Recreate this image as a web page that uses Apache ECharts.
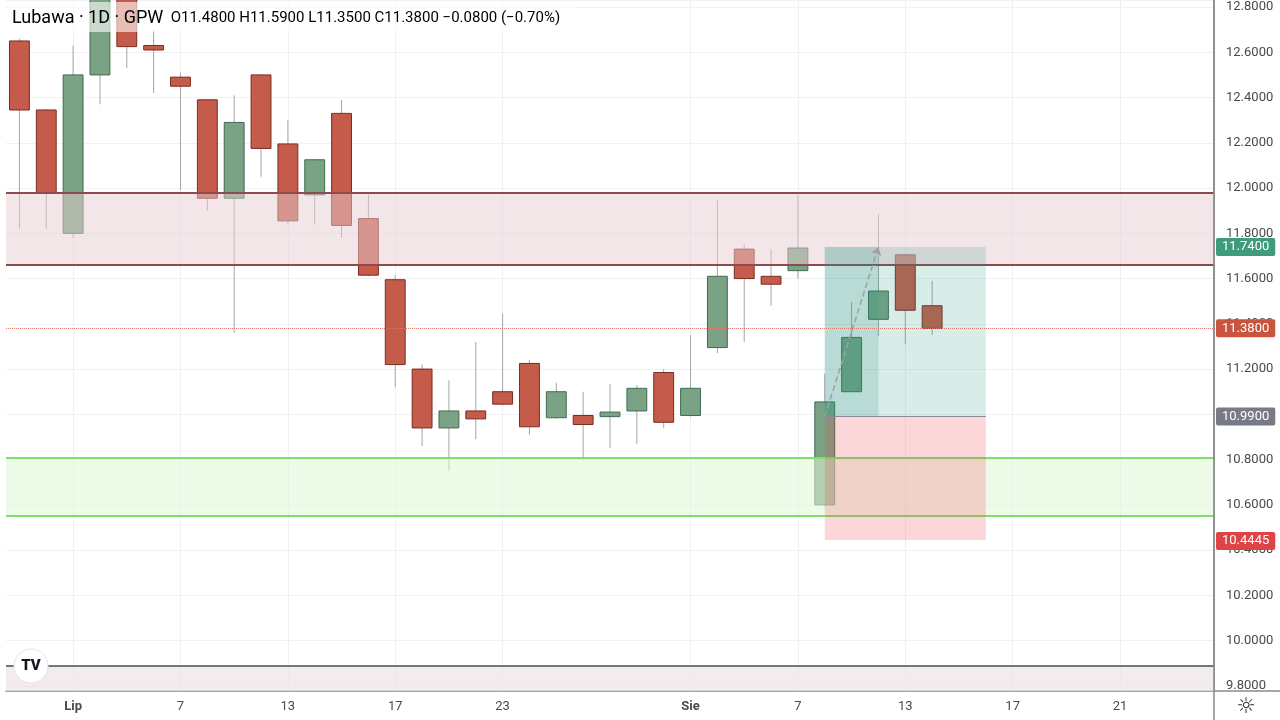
<!DOCTYPE html>
<html>
<head>
<meta charset="utf-8">
<title>Lubawa 1D GPW</title>
<script src="https://cdn.jsdelivr.net/npm/echarts@6/dist/echarts.min.js"></script>
<style>
    html, body { margin: 0; padding: 0; background: #fff; }
    #chart { width: 1280px; height: 720px; }
</style>
</head>
<body>
<div id="chart"></div>
<script>
// sesje (2020) + kilka dni w przyszłość po prawej stronie
const days = [
    '06-29', '06-30', '07-01', '07-02', '07-03', '07-06', '07-07', '07-08', '07-09', '07-10',
    '07-13', '07-14', '07-15', '07-16', '07-17', '07-20', '07-21', '07-22', '07-23', '07-24',
    '07-27', '07-28', '07-29', '07-30', '07-31', '08-03', '08-04', '08-05', '08-06', '08-07',
    '08-10', '08-11', '08-12', '08-13', '08-14',
    '08-15', '08-16', '08-17', '08-18', '08-19', '08-20', '08-21', '08-22', '08-23', '08-24'
];
const tickDays = {
    '07-01': 'Lip', '07-07': '7', '07-13': '13', '07-17': '17', '07-23': '23',
    '08-03': 'Sie', '08-07': '7', '08-13': '13', '08-17': '17', '08-21': '21'
};
const monthTicks = ['Lip', 'Sie'];

const opens = [12.65, 12.345, 11.80, 12.50, 12.92, 12.63, 12.49, 12.39, 11.955, 12.50,
    12.195, 11.97, 12.33, 11.865, 11.595, 11.20, 10.94, 11.015, 11.10, 11.225,
    10.985, 10.995, 10.99, 11.015, 11.185, 10.995, 11.295, 11.73, 11.61, 11.635,
    10.60, 11.10, 11.42, 11.705, 11.48];
const closes = [12.345, 11.98, 12.50, 12.90, 12.625, 12.61, 12.45, 11.955, 12.29, 12.175,
    11.855, 12.125, 11.835, 11.615, 11.22, 10.94, 11.015, 10.98, 11.045, 10.945,
    11.10, 10.955, 11.01, 11.115, 10.965, 11.115, 11.61, 11.60, 11.575, 11.735,
    11.055, 11.34, 11.545, 11.46, 11.38];
const lows = [11.82, 11.82, 11.78, 12.37, 12.53, 12.42, 11.99, 11.90, 11.36, 12.05,
    11.84, 11.84, 11.78, 11.61, 11.12, 10.86, 10.75, 10.89, 11.04, 10.91,
    10.98, 10.80, 10.85, 10.87, 10.94, 10.99, 11.27, 11.32, 11.48, 11.60,
    10.595, 11.10, 11.345, 11.31, 11.35];
const highs = [12.66, 12.35, 12.63, 12.95, 12.97, 12.70, 12.51, 12.39, 12.41, 12.50,
    12.30, 12.125, 12.39, 11.97, 11.615, 11.22, 11.15, 11.32, 11.445, 11.24,
    11.14, 11.10, 11.135, 11.13, 11.20, 11.35, 11.945, 11.75, 11.73, 11.97,
    11.18, 11.495, 11.885, 11.71, 11.59];

// strefy narysowane na wykresie
const resistanceZone = [11.659, 11.979];
const supportZone = [10.549, 10.808];
const baseLine = 9.888;

// pozycja długa
const posStart = '08-10';
const posHit = '08-12';
const posEnd = '08-16';
const entry = 10.99;
const target = 11.74;
const stop = 10.4445;

const yMin = 9.7775;
const yMax = 12.831;

const GREEN = '#7aa386', GREEN_B = '#3f6b4f';
const RED = '#c55c4b', RED_B = '#7a2a22';

let candleRows = opens.map((o, i) => [i, o, closes[i], lows[i], highs[i]]);

function renderCandle (params, api) {
    let i = api.value(0);
    let o = api.value(1), c = api.value(2), l = api.value(3), h = api.value(4);
    let pTop = api.coord([i, Math.max(o, c)]);
    let pBot = api.coord([i, Math.min(o, c)]);
    let pH = api.coord([i, h]);
    let pL = api.coord([i, l]);
    let w = api.size([1, 0])[0] * 0.74;
    let up = c >= o;
    return {
        type: 'group',
        children: [{
            type: 'line',
            shape: { x1: pH[0], y1: pH[1], x2: pL[0], y2: pL[1] },
            style: { stroke: '#a6a6a6', lineWidth: 1 }
        }, {
            type: 'rect',
            shape: { x: pTop[0] - w / 2, y: pTop[1], width: w, height: Math.max(pBot[1] - pTop[1], 2) },
            style: { fill: up ? GREEN : RED, stroke: up ? GREEN_B : RED_B, lineWidth: 1 }
        }]
    };
}

let last = closes.length - 1;
let chg = closes[last] - closes[last - 1];
let chgPct = chg / closes[last - 1] * 100;
function signed (v, d) {
    return (v < 0 ? '\u2212' : '+') + Math.abs(v).toFixed(d);
}

let myChart = echarts.init(document.getElementById('chart'));

let badge = (value, bg, line) => ({
    yAxis: value,
    lineStyle: line || { color: 'transparent', width: 0 },
    label: {
        show: true, position: 'end', distance: 2, formatter: value.toFixed(4),
        color: '#fff', backgroundColor: bg, padding: [3, 6, 2, 6], borderRadius: 2,
        fontSize: 13, fontFamily: 'Roboto'
    }
});

let options = {
    animation: false,
    backgroundColor: '#fff',
    grid: { left: 6, right: 66, top: 0, bottom: 29 },
    xAxis: {
        type: 'category',
        data: days,
        boundaryGap: true,
        axisLine: { lineStyle: { color: '#8a8a8a', width: 1.5 } },
        axisTick: { show: false },
        splitLine: { show: false },
        axisLabel: {
            interval: (i, v) => v in tickDays,
            margin: 9,
            color: '#4a4a4a',
            fontSize: 13,
            fontFamily: 'Roboto',
            formatter: v => monthTicks.indexOf(tickDays[v]) >= 0 ? '{b|' + tickDays[v] + '}' : tickDays[v],
            rich: { b: { fontWeight: 'bold', color: '#4a4a4a', fontSize: 13, fontFamily: 'Roboto' } }
        }
    },
    yAxis: {
        type: 'value',
        position: 'right',
        min: yMin,
        max: yMax,
        scale: true,
        splitNumber: 15,
        minInterval: 0.2,
        maxInterval: 0.2,
        axisLine: { show: true, lineStyle: { color: '#8a8a8a', width: 1.5 } },
        axisTick: { show: false },
        splitLine: { lineStyle: { color: '#eff1f6' } },
        axisLabel: {
            margin: 12,
            color: '#4a4a4a',
            fontSize: 13,
            fontFamily: 'Roboto',
            formatter: v => Math.abs(v * 5 - Math.round(v * 5)) < 1e-6 ? v.toFixed(4) : ''
        }
    },
    series: [{
        // pionowe linie siatki przy etykietach dat
        type: 'line',
        data: [],
        z: 1,
        silent: true,
        markLine: {
            silent: true,
            z: 1,
            symbol: 'none',
            label: { show: false },
            lineStyle: { color: '#eef0f5', width: 1, type: 'solid' },
            data: Object.keys(tickDays).map(d => ({ xAxis: d }))
        }
    }, {
        type: 'custom',
        name: 'Lubawa',
        renderItem: renderCandle,
        data: candleRows,
        encode: { x: 0, y: [1, 2, 3, 4] },
        clip: true,
        z: 2
    }, {
        // strefy oporu / wsparcia (nad świecami, półprzezroczyste)
        type: 'line',
        data: [],
        z: 3,
        silent: true,
        markArea: {
            silent: true,
            z: 10,
            data: [
                [{ yAxis: resistanceZone[0], itemStyle: { color: 'rgba(232,205,210,0.5)' } }, { yAxis: resistanceZone[1] }],
                [{ yAxis: supportZone[0], itemStyle: { color: 'rgba(225,248,215,0.55)' } }, { yAxis: supportZone[1] }],
                [{ yAxis: yMin, itemStyle: { color: 'rgba(238,228,230,0.7)' } }, { yAxis: baseLine }]
            ]
        },
        markLine: {
            silent: true,
            z: 11,
            symbol: 'none',
            label: { show: false },
            data: [
                { yAxis: resistanceZone[0], lineStyle: { color: '#8e4a4f', width: 2, type: 'solid' } },
                { yAxis: resistanceZone[1], lineStyle: { color: '#8e4a4f', width: 2, type: 'solid' } },
                { yAxis: supportZone[0], lineStyle: { color: '#7ee06a', width: 2, type: 'solid' } },
                { yAxis: supportZone[1], lineStyle: { color: '#7ee06a', width: 2, type: 'solid' } },
                { yAxis: baseLine, lineStyle: { color: '#767676', width: 2, type: 'solid' } }
            ]
        }
    }, {
        // narzędzie pozycji długiej
        type: 'line',
        data: [],
        z: 4,
        silent: true,
        markArea: {
            silent: true,
            z: 12,
            data: [
                [{ coord: [posStart, entry], itemStyle: { color: 'rgba(40,150,125,0.18)' } }, { coord: [posEnd, target] }],
                [{ coord: [posStart, entry], itemStyle: { color: 'rgba(40,150,125,0.18)' } }, { coord: [posHit, target] }],
                [{ coord: [posStart, stop], itemStyle: { color: 'rgba(242,54,69,0.2)' } }, { coord: [posEnd, entry] }]
            ]
        },
        markLine: {
            silent: true,
            z: 13,
            symbol: 'none',
            label: { show: false },
            data: [
                [{ coord: [posStart, entry], lineStyle: { color: '#8a8d96', width: 1, type: 'solid' } }, { coord: [posEnd, entry] }],
                [{ coord: [posStart, entry], symbol: 'none', lineStyle: { color: '#a0a0a0', width: 1.5, type: 'dashed' } },
                 { coord: [posHit, target], symbol: 'arrow', symbolSize: 8 }]
            ]
        }
    }, {
        // znaczniki cen na osi
        type: 'line',
        data: [],
        z: 6,
        silent: true,
        markLine: {
            silent: true,
            z: 14,
            symbol: 'none',
            data: [
                badge(target, '#3e9b7d'),
                badge(closes[last], '#c9553f', { color: '#d77a6a', width: 1, type: 'dotted' }),
                badge(entry, '#787b86'),
                badge(stop, '#de4348')
            ]
        }
    }],
    graphic: [{
        type: 'rect',
        z: 100,
        shape: { x: 6, y: 2, width: 570, height: 30 },
        style: { fill: 'rgba(255,255,255,0.6)' }
    }, {
        type: 'text',
        z: 101,
        x: 12, y: 18,
        style: {
            text: '{n|Lubawa \u00b7 1D \u00b7 GPW}  ' +
                '{k|O}{v|' + opens[last].toFixed(4) + '} ' +
                '{k|H}{v|' + highs[last].toFixed(4) + '} ' +
                '{k|L}{v|' + lows[last].toFixed(4) + '} ' +
                '{k|C}{v|' + closes[last].toFixed(4) + '} ' +
                '{v|' + signed(chg, 4) + ' (' + signed(chgPct, 2) + '%)}',
            verticalAlign: 'middle',
            fontFamily: 'Roboto',
            fontSize: 15,
            rich: {
                n: { fontSize: 18, color: '#50535e', fontFamily: 'Roboto' },
                k: { fontSize: 15, color: '#50535e', fontFamily: 'Roboto' },
                v: { fontSize: 15, color: '#7a3a33', fontFamily: 'Roboto' }
            }
        }
    }, {
        type: 'line',
        z: 100,
        shape: { x1: 1214, y1: 691, x2: 1280, y2: 691 },
        style: { stroke: '#8a8a8a', lineWidth: 1.5 }
    }, {
        type: 'line',
        z: 100,
        shape: { x1: 1214, y1: 0, x2: 1214, y2: 720 },
        style: { stroke: '#8a8a8a', lineWidth: 1.5 }
    }, {
        type: 'circle',
        z: 100,
        shape: { cx: 31, cy: 666, r: 17 },
        style: { fill: '#fff', stroke: '#e3e5ea', lineWidth: 1 }
    }, {
        type: 'text',
        z: 101,
        x: 31, y: 666,
        style: {
            text: 'TV', align: 'center', verticalAlign: 'middle',
            fontSize: 15, fontWeight: 900, fontFamily: 'Roboto', fill: '#131722'
        }
    }, {
        type: 'text',
        z: 101,
        x: 1246, y: 707,
        style: {
            text: '\u263c', align: 'center', verticalAlign: 'middle',
            fontSize: 22, fontFamily: 'DejaVu Sans', fill: '#2a2e39'
        }
    }]
};

myChart.setOption(options);
</script>
</body>
</html>
